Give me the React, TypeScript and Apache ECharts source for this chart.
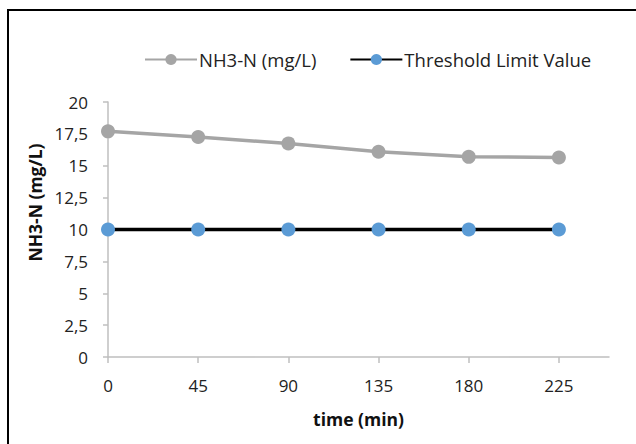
import React, { useEffect, useRef } from "react";
import * as echarts from "echarts";

const timeMin = [0, 45, 90, 135, 180, 225];
const nh3 = [17.7, 17.25, 16.75, 16.1, 15.7, 15.65];
const threshold = [10, 10, 10, 10, 10, 10];
const xTicks = [0, 45, 90, 135, 180, 225];

const FONT = "'Open Sans', sans-serif";

export default function App() {
  const ref = useRef<HTMLDivElement>(null);
  useEffect(() => {
    if (!ref.current) return;
    const chart = echarts.init(ref.current, undefined, { renderer: "svg" });
    chart.setOption({
      animation: false,
      backgroundColor: "#ffffff",
      textStyle: { fontFamily: FONT },
      graphic: [
        {
          type: "rect",
          shape: { x: 8, y: 10, width: 700, height: 500 },
          style: { fill: "none", stroke: "#000", lineWidth: 2 },
          silent: true,
        },
      ],
      legend: {
        left: 144,
        top: 50,
        padding: 0,
        itemWidth: 52,
        itemHeight: 14,
        itemGap: 33,
        textStyle: { fontFamily: FONT, fontSize: 18.5, color: "#222", padding: [0, 0, 0, -3] },
        data: ["NH3-N (mg/L)", "Threshold Limit Value"],
      },
      grid: { left: 108, right: 27, top: 102, bottom: 87, containLabel: false },
      xAxis: {
        type: "value",
        min: 0,
        max: 250,
        interval: 45,
        name: "time (min)",
        nameLocation: "middle",
        nameGap: 53,
        nameTextStyle: { fontFamily: FONT, fontSize: 17.5, fontWeight: "bold", color: "#111" },
        axisLine: { show: true, lineStyle: { color: "#BFBFBF", width: 1.5 } },
        axisTick: { show: true, length: 6, lineStyle: { color: "#BFBFBF", width: 1.5 }, customValues: xTicks },
        axisLabel: { fontFamily: FONT, fontSize: 17, color: "#222", margin: 20, customValues: xTicks },
        splitLine: { show: false },
      },
      yAxis: {
        type: "value",
        min: 0,
        max: 20,
        interval: 2.5,
        name: "NH3-N (mg/L)",
        nameLocation: "middle",
        nameGap: 62,
        nameRotate: 90,
        nameTextStyle: {
          fontFamily: FONT,
          fontSize: 17.5,
          fontWeight: "bold",
          color: "#111",
          padding: [0, 0, 0, 54],
        },
        axisLine: { show: true, lineStyle: { color: "#BFBFBF", width: 1.5 } },
        axisTick: { show: true, length: 5, lineStyle: { color: "#BFBFBF", width: 1.5 } },
        axisLabel: {
          fontFamily: FONT,
          fontSize: 17,
          color: "#222",
          margin: 20,
          formatter: (v: number) => String(v).replace(".", ","),
        },
        splitLine: { show: false },
      },
      series: [
        {
          name: "NH3-N (mg/L)",
          type: "line",
          data: timeMin.map((t, i) => [t, nh3[i]]),
          symbol: "circle",
          symbolSize: 14,
          lineStyle: { color: "#A5A5A5", width: 3.5 },
          itemStyle: { color: "#A5A5A5" },
        },
        {
          name: "Threshold Limit Value",
          type: "line",
          data: timeMin.map((t, i) => [t, threshold[i]]),
          symbol: "circle",
          symbolSize: 14,
          lineStyle: { color: "#000000", width: 3.5 },
          itemStyle: { color: "#5B9BD5" },
        },
      ],
    });
    return () => chart.dispose();
  }, []);
  return (
    <div
      ref={ref}
      style={{ position: "absolute", left: 0, top: 0, width: 636, height: 444 }}
    />
  );
}
